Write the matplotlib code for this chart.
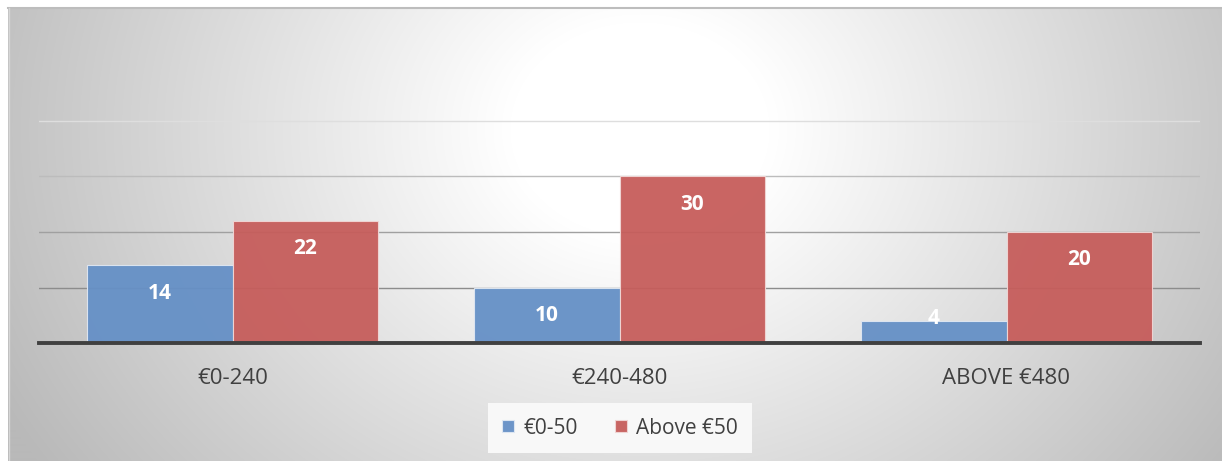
import matplotlib.pyplot as plt
import numpy as np

plt.rcParams['font.family'] = ['Open Sans', 'DejaVu Sans']

categories = ['€0-240', '€240-480', 'ABOVE €480']
low_spend = [14, 10, 4]
high_spend = [22, 30, 20]
series_names = ['€0-50', 'Above €50']

blue = '#6590c6'
red = '#c65d5b'

W, H = 1222, 461
fig = plt.figure(figsize=(W / 100, H / 100), dpi=100)

# radial grey backdrop behind the chart area
bg = fig.add_axes([8 / W, 0, 1 - 8 / W, 1 - 8 / H])
xx, yy = np.meshgrid(np.arange(8, W), np.arange(8, H))
d = np.sqrt(((xx - 640) / 650.0) ** 2 + ((yy - 130) / 540.0) ** 2)
shade = 255 - 77 * np.clip(d - 0.2, 0, None)
shade = np.clip(shade, 185, 255) / 255.0
bg.imshow(np.dstack([shade] * 3), aspect='auto', interpolation='bilinear')
bg.set_axis_off()
fig.add_artist(plt.Line2D([8 / W, 1], [1 - 8.5 / H] * 2, color='#bdbdbd', lw=1.5))
fig.add_artist(plt.Line2D([8.5 / W] * 2, [0, 1 - 8 / H], color='#d6d6d6', lw=1))

ax = fig.add_axes([39 / W, (H - 343) / H, 1161 / W, 277.5 / H])
ax.patch.set_alpha(0)

x = np.arange(len(categories))
w = 0.375
grid_colors = {10: '#8c8c8c', 20: '#a0a0a0', 30: '#bcbcbc', 40: '#dedede'}
for v, c in grid_colors.items():
    ax.axhline(v, color=c, lw=1, zorder=1)

b1 = ax.bar(x - w / 2, low_spend, w, color=blue, alpha=0.95,
            edgecolor='#dfe7f2', lw=0.8, zorder=2, label=series_names[0])
b2 = ax.bar(x + w / 2, high_spend, w, color=red, alpha=0.95,
            edgecolor='#f0d6d5', lw=0.8, zorder=2, label=series_names[1])

for bars, vals in ((b1, low_spend), (b2, high_spend)):
    for rect, v in zip(bars, vals):
        off = -20 if v > 6 else 2
        ax.annotate(str(v), (rect.get_x() + rect.get_width() / 2, v),
                    xytext=(0, off), textcoords='offset points',
                    ha='center', va='center', color='white',
                    fontsize=15, fontweight='bold', zorder=4)

ax.axhline(0, color='#404040', lw=2.8, zorder=3, clip_on=False)
ax.set_xlim(-0.5, 2.5)
ax.set_ylim(0, 50)
ax.set_yticks([])
ax.set_xticks(x)
ax.set_xticklabels(categories, fontsize=16, color='#404040')
ax.tick_params(axis='x', length=0, pad=18)
for s in ax.spines.values():
    s.set_visible(False)

leg = fig.legend(loc='center', bbox_to_anchor=(620 / W, (H - 428) / H),
                 ncol=2, fontsize=15, frameon=True, fancybox=False,
                 handlelength=0.55, handleheight=0.55, handletextpad=0.45,
                 columnspacing=1.8, borderpad=0.7, labelcolor='#404040')
leg.get_frame().set_facecolor('#f8f8f8')
leg.get_frame().set_edgecolor('none')
leg.get_frame().set_alpha(1)

fig.savefig('out.png', dpi=100)
